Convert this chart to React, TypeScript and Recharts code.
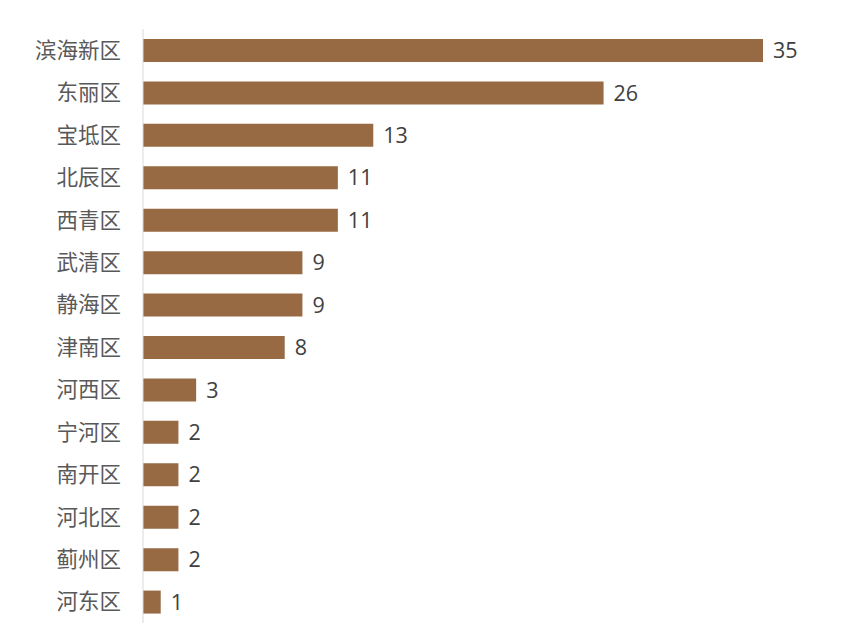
import React from 'react';
import { BarChart, Bar, XAxis, YAxis, LabelList } from 'recharts';

const districts = [
  '滨海新区',
  '东丽区',
  '宝坻区',
  '北辰区',
  '西青区',
  '武清区',
  '静海区',
  '津南区',
  '河西区',
  '宁河区',
  '南开区',
  '河北区',
  '蓟州区',
  '河东区',
];

const counts = [35, 26, 13, 11, 11, 9, 9, 8, 3, 2, 2, 2, 2, 1];

const data = districts.map((name, i) => ({ name, value: counts[i] }));

const App: React.FC = () => {
  return (
    <BarChart
      width={854}
      height={617}
      data={data}
      layout='vertical'
      margin={{ top: 21, right: 99, left: 0, bottom: 2 }}
    >
      <XAxis type='number' domain={[0, 35]} hide />
      <YAxis
        type='category'
        dataKey='name'
        width={135}
        tickLine={false}
        tickSize={0}
        tickMargin={22}
        axisLine={{ stroke: '#d9d9d9' }}
        tick={{
          fontSize: 21.5,
          fill: '#595959',
          fontFamily: '"Noto Sans CJK SC", sans-serif',
        }}
        interval={0}
      />
      <Bar dataKey='value' fill='#976A43' barSize={23} isAnimationActive={false}>
        <LabelList
          dataKey='value'
          position='right'
          offset={10}
          style={{
            fontSize: 21.5,
            fill: '#404040',
            fontFamily: '"Open Sans", sans-serif',
          }}
        />
      </Bar>
    </BarChart>
  );
};

export default App;
